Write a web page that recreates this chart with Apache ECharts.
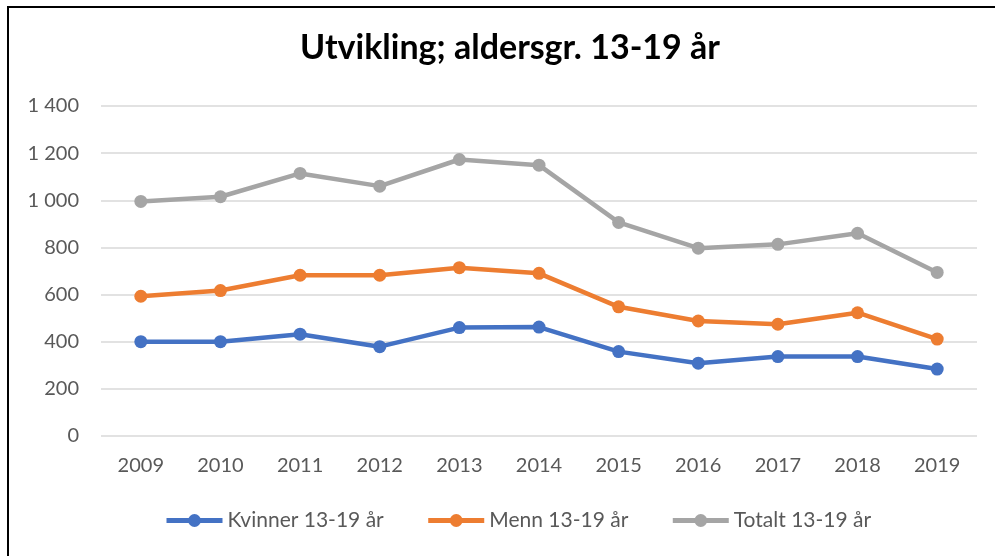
<!DOCTYPE html>
<html>
<head>
<meta charset="utf-8">
<script src="https://cdn.jsdelivr.net/npm/echarts@6/dist/echarts.min.js"></script>
<style>
  html, body { margin: 0; padding: 0; background: #fff; }
  #chart { width: 995px; height: 556px; }
</style>
</head>
<body>
<div id="chart"></div>
<script>
  // data
  var years = ['2009', '2010', '2011', '2012', '2013', '2014', '2015', '2016', '2017', '2018', '2019'];
  var kvinner = [400, 400, 432, 379, 460, 462, 358, 309, 337, 337, 284];
  var menn = [593, 617, 682, 682, 714, 690, 548, 488, 474, 523, 411];
  var totalt = [995, 1015, 1114, 1060, 1173, 1149, 906, 797, 813, 860, 694];

  var font = 'Lato';

  function line(name, data, color) {
    return {
      name: name,
      type: 'line',
      data: data,
      symbol: 'circle',
      symbolSize: 13,
      lineStyle: { width: 4.5, color: color },
      itemStyle: { color: color },
      emphasis: { disabled: true }
    };
  }

  var myChart = echarts.init(document.getElementById('chart'));
  myChart.setOption({
    animation: false,
    backgroundColor: '#fff',
    color: ['#4472C4', '#ED7D31', '#A5A5A5'],
    title: {
      text: 'Utvikling; aldersgr. 13-19 år',
      left: 505,
      textAlign: 'center',
      top: 26,
      textStyle: { fontFamily: font, fontWeight: 'bold', fontSize: 34, color: '#000' }
    },
    grid: { left: 101, right: 18, top: 106, bottom: 120 },
    legend: {
      bottom: 20,
      left: 159,
      itemWidth: 56,
      itemHeight: 16,
      itemGap: 42,
      lineStyle: { width: 5 },
      textStyle: { fontFamily: font, fontSize: 21, color: '#595959' },
      data: ['Kvinner 13-19 år', 'Menn 13-19 år', 'Totalt 13-19 år']
    },
    xAxis: {
      type: 'category',
      data: years,
      boundaryGap: true,
      axisLine: { show: false },
      axisTick: { show: false },
      axisLabel: { fontFamily: font, fontSize: 20, color: '#595959', margin: 20 }
    },
    yAxis: {
      type: 'value',
      min: 0,
      max: 1400,
      interval: 200,
      axisLine: { show: false },
      axisTick: { show: false },
      splitLine: { lineStyle: { color: '#D9D9D9', width: 1.5 } },
      axisLabel: {
        fontFamily: font, fontSize: 20, color: '#595959', margin: 22,
        formatter: function (v) { return v >= 1000 ? Math.floor(v / 1000) + ' ' + String(v % 1000).padStart(3, '0') : String(v); }
      }
    },
    graphic: [{
      type: 'rect',
      shape: { x: 8, y: 7, width: 1100, height: 700 },
      style: { fill: 'none', stroke: '#000', lineWidth: 2 },
      silent: true
    }],
    series: [
      line('Kvinner 13-19 år', kvinner, '#4472C4'),
      line('Menn 13-19 år', menn, '#ED7D31'),
      line('Totalt 13-19 år', totalt, '#A5A5A5')
    ]
  });
</script>
</body>
</html>
